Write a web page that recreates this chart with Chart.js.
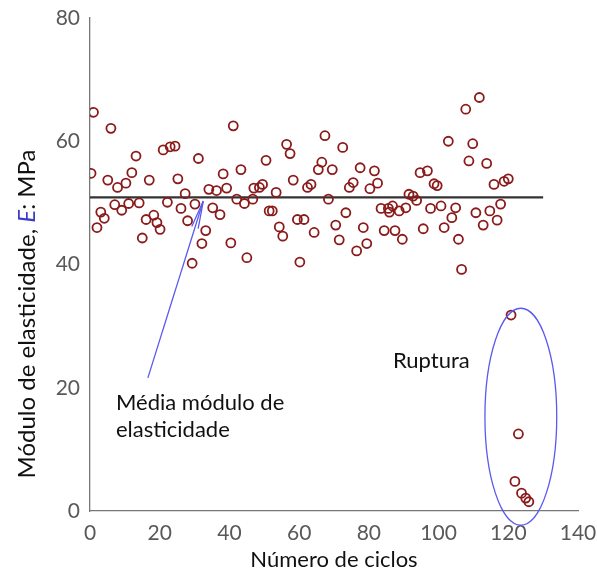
<!DOCTYPE html>
<html>
<head>
<meta charset="utf-8">
<script src="https://cdn.jsdelivr.net/npm/chart.js@4"></script>
<style>
  body { margin: 0; background: #fff; }
  #wrap { width: 597px; height: 573px; }
</style>
</head>
<body>
<div id="wrap"><canvas id="myChart" width="597" height="573"></canvas></div>
<script>
// Número de ciclos (x) e módulo de elasticidade (y)
const ciclos = [1.0, 6.0, 0.3, 5.1, 7.9, 10.3, 12.0, 13.2, 17.0, 21.0, 23.0, 24.4, 25.2, 27.3, 31.1, 34.1, 36.3, 39.2, 38.2, 41.1,
  43.3, 42.1, 44.3, 45.0, 7.1, 3.1, 4.1, 2.0, 9.1, 11.1, 14.1, 16.1, 18.3, 19.2, 20.1, 15.0, 22.2, 26.1, 28.0, 30.1,
  29.3, 33.2, 32.1, 35.2, 37.3, 40.4, 46.7, 47.0, 48.6, 49.5, 50.5, 53.4, 51.4, 52.3, 54.3, 55.3, 56.4, 57.4, 58.3, 59.5,
  61.4, 60.2, 62.4, 63.4, 64.3, 65.5, 66.5, 67.4, 68.4, 69.5, 70.5, 71.5, 72.5, 73.4, 74.4, 75.5, 76.5, 77.5, 78.4, 79.4,
  80.3, 81.6, 82.5, 83.5, 84.4, 85.6, 86.8, 85.9, 87.5, 88.7, 89.6, 90.6, 91.5, 92.7, 93.7, 94.7, 96.8, 95.6, 97.7, 98.7,
  99.6, 100.7, 101.6, 102.8, 103.8, 104.9, 105.7, 106.6, 107.8, 108.7, 109.8, 110.7, 111.7, 112.8, 113.8, 114.7, 115.9, 116.8, 117.8, 118.8,
  120.0, 120.8, 122.9, 121.9, 123.8, 125.0, 125.9];
const modulo = [64.7, 62.1, 54.8, 53.7, 52.5, 53.2, 54.9, 57.6, 53.7, 58.6, 59.1, 59.2, 53.9, 51.5, 57.2, 52.2, 52.0, 52.4, 54.7, 62.5,
  55.4, 50.6, 49.9, 41.1, 49.7, 48.5, 47.5, 46.0, 48.8, 49.9, 50.0, 47.3, 48.0, 46.8, 45.7, 44.3, 50.1, 49.1, 47.1, 49.8,
  40.2, 45.5, 43.4, 49.2, 48.1, 43.5, 50.6, 52.4, 52.5, 53.0, 56.9, 51.7, 48.7, 48.7, 46.1, 44.6, 59.5, 58.0, 53.7, 47.3,
  47.3, 40.4, 52.5, 53.0, 45.2, 55.4, 56.6, 60.9, 50.6, 55.4, 46.4, 44.0, 59.0, 48.4, 52.5, 53.3, 42.2, 55.7, 46.0, 43.4,
  52.3, 55.2, 53.2, 49.1, 45.5, 49.1, 49.5, 48.5, 45.5, 48.7, 44.1, 49.2, 51.4, 51.1, 50.4, 54.9, 55.2, 45.8, 49.1, 53.1,
  52.8, 49.5, 46.0, 60.0, 47.6, 49.2, 44.1, 39.2, 65.2, 56.8, 59.6, 48.4, 67.1, 46.4, 56.4, 48.7, 53.0, 47.2, 49.8, 53.5,
  53.9, 31.8, 12.5, 4.8, 2.9, 2.1, 1.5];

// Linha da média
const mediaX = [0, 130];
const mediaY = [50.9, 50.9];

// Eixos
const xTicks = [0, 20, 40, 60, 80, 100, 120, 140];
const yTicks = [0, 20, 40, 60, 80];

const fonte = "Lato, 'Open Sans', sans-serif";

// Anotações: elipse de ruptura, seta e textos
const anotacoes = {
  id: 'anotacoes',
  afterDatasetsDraw(chart) {
    const c = chart.ctx;
    const xs = chart.scales.x, ys = chart.scales.y;

    // elipse "Ruptura"
    const cx = xs.getPixelForValue(123.6), cy = ys.getPixelForValue(15.3);
    const rx = xs.getPixelForValue(123.6 + 10.3) - cx;
    const ry = cy - ys.getPixelForValue(15.3 + 17.6);
    c.save();
    c.strokeStyle = '#5a5af0';
    c.lineWidth = 1.3;
    c.beginPath();
    c.ellipse(cx, cy, rx, ry, 0, 0, Math.PI * 2);
    c.stroke();

    // seta até a linha da média
    const x0 = xs.getPixelForValue(16.6), y0 = ys.getPixelForValue(21.6);
    const x1 = xs.getPixelForValue(32.5), y1 = ys.getPixelForValue(50.3);
    c.beginPath();
    c.moveTo(x0, y0);
    c.lineTo(x1, y1);
    c.stroke();
    const ang = Math.atan2(y1 - y0, x1 - x0);
    c.beginPath();
    c.moveTo(x1, y1);
    c.lineTo(x1 - 28 * Math.cos(ang - 0.12), y1 - 28 * Math.sin(ang - 0.12));
    c.moveTo(x1, y1);
    c.lineTo(x1 - 28 * Math.cos(ang + 0.12), y1 - 28 * Math.sin(ang + 0.12));
    c.stroke();

    // textos
    c.fillStyle = '#111';
    c.font = '22px ' + fonte;
    c.textBaseline = 'alphabetic';
    c.textAlign = 'left';
    c.fillText('Média módulo de', 116, 410);
    c.fillText('elasticidade', 116, 437);
    c.fillText('Ruptura', 393, 368);
    c.restore();
  }
};

// Título do eixo y com "E" em itálico
const tituloY = {
  id: 'tituloY',
  afterDraw(chart) {
    const c = chart.ctx;
    const partes = [
      { t: 'Módulo de elasticidade, ', f: '24px ' + fonte, cor: '#111' },
      { t: 'E', f: 'italic 24px ' + fonte, cor: '#3c3cc8' },
      { t: ': MPa', f: '24px ' + fonte, cor: '#111' }
    ];
    let total = 0;
    partes.forEach(p => { c.font = p.f; p.w = c.measureText(p.t).width; total += p.w; });
    c.save();
    c.translate(27, 314);
    c.rotate(-Math.PI / 2);
    c.textBaseline = 'middle';
    c.textAlign = 'left';
    let pos = -total / 2;
    partes.forEach(p => {
      c.font = p.f;
      c.fillStyle = p.cor;
      c.fillText(p.t, pos, 0);
      pos += p.w;
    });
    c.restore();
  }
};

const ctx = document.getElementById('myChart').getContext('2d');

let chart = new Chart(ctx, {
  type: 'scatter',
  data: {
    datasets: [
      {
        label: 'Módulo de elasticidade',
        data: ciclos.map((x, i) => ({ x: x, y: modulo[i] })),
        pointStyle: 'circle',
        pointRadius: 4.5,
        pointBorderWidth: 1.8,
        borderColor: '#8b1a1a',
        backgroundColor: 'rgba(255,255,255,0)'
      },
      {
        type: 'line',
        label: 'Média',
        data: mediaX.map((x, i) => ({ x: x, y: mediaY[i] })),
        borderColor: '#333',
        borderWidth: 2.2,
        pointRadius: 0
      }
    ]
  },
  options: {
    responsive: false,
    animation: false,
    layout: { padding: { left: 0, top: 18, right: 0, bottom: 0 } },
    plugins: {
      legend: { display: false },
      tooltip: { enabled: false }
    },
    scales: {
      x: {
        type: 'linear',
        min: 0,
        max: 140,
        afterBuildTicks: (s) => { s.ticks = xTicks.map(v => ({ value: v })); },
        afterFit: (s) => { s.height = 62; s.paddingRight = 19; s.paddingLeft = 0; },
        grid: { display: false, drawTicks: true, tickLength: 5, tickColor: '#777' },
        border: { color: '#777', width: 1.3 },
        ticks: { color: '#595959', font: { family: fonte, size: 21 }, padding: 5 },
        title: { display: true, text: 'Número de ciclos', color: '#111', font: { family: fonte, size: 22 }, padding: { top: 0, bottom: 0 } }
      },
      y: {
        min: 0,
        max: 80,
        afterBuildTicks: (s) => { s.ticks = yTicks.map(v => ({ value: v })); },
        afterFit: (s) => { s.width = 90; s.paddingTop = 0; s.paddingBottom = 0; },
        grid: { display: false, drawTicks: true, tickLength: 5, tickColor: '#777' },
        border: { color: '#777', width: 1.3 },
        ticks: { color: '#595959', font: { family: fonte, size: 21 }, padding: 5 }
      }
    }
  },
  plugins: [anotacoes, tituloY]
});
</script>
</body>
</html>
